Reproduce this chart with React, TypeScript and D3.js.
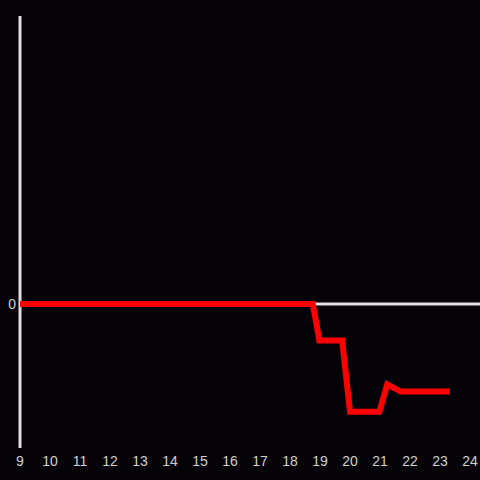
import React from "react";
import * as d3 from "d3";

const hours = [9, 18.76, 18.98, 19.74, 20.0, 20.98, 21.24, 21.69, 23.33];
const values = [0, 0, -12.2, -12.2, -35.9, -35.9, -26.8, -29.2, -29.2];
const xTicks = [9, 10, 11, 12, 13, 14, 15, 16, 17, 18, 19, 20, 21, 22, 23, 24];
const yTicks = [0];

export default function App() {
  const W = 480, H = 480;
  const x = d3.scaleLinear().domain([9, 24]).range([20, 470]);
  const y = d3.scaleLinear().domain([-48, 96]).range([448, 16]);
  const data = hours.map((h, i) => ({ h, v: values[i] }));
  const line = d3.line<{ h: number; v: number }>().x(d => x(d.h)).y(d => y(d.v));
  return (
    <svg width={W} height={H} style={{ position: "absolute", left: 0, top: 0, background: "#050307" }}>
      <rect x={0} y={0} width={W} height={H} fill="#050307" />
      <line x1={x(9)} x2={W} y1={y(0)} y2={y(0)} stroke="#e0e0e0" strokeWidth={3} />
      <line x1={x(9)} x2={x(9)} y1={16} y2={448} stroke="#e0e0e0" strokeWidth={3} />
      {yTicks.map(t => (
        <text key={t} x={16} y={y(t)} dy="0.35em" textAnchor="end" fill="#d0d0d0"
          fontFamily="Liberation Sans, Arial, sans-serif" fontSize={14}>{t}</text>
      ))}
      {xTicks.map(t => (
        <text key={t} x={x(t)} y={461} dy="0.35em" textAnchor="middle" fill="#d0d0d0"
          fontFamily="Liberation Sans, Arial, sans-serif" fontSize={14}>{t}</text>
      ))}
      <path d={line(data) || ""} fill="none" stroke="#ff0000" strokeWidth={6} strokeLinejoin="miter" strokeLinecap="butt" />
    </svg>
  );
}
